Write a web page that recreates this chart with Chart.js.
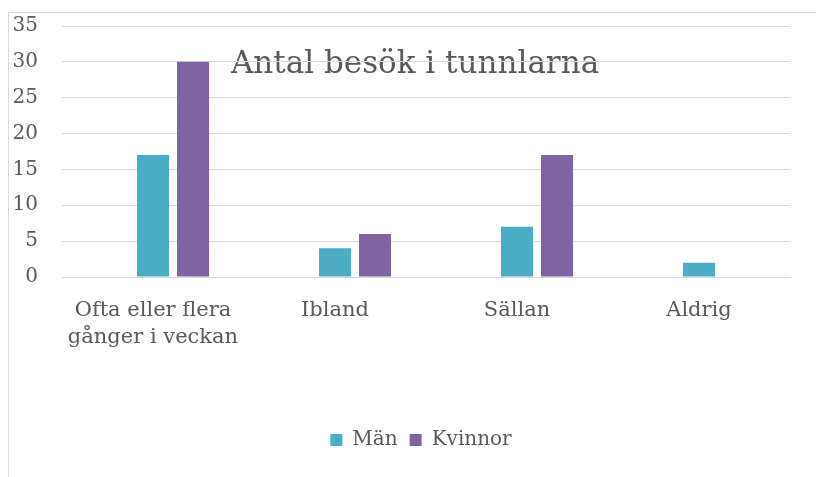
<!DOCTYPE html>
<html>
<head>
<meta charset="utf-8">
<script src="https://cdn.jsdelivr.net/npm/chart.js@4"></script>
<style>
  html, body { margin: 0; padding: 0; background: #fff; }
  #wrap { position: relative; width: 816px; height: 477px; }
</style>
</head>
<body>
<div id="wrap"><canvas id="chart"></canvas></div>
<script>
// data
const categories = [["Ofta eller flera", "gånger i veckan"], "Ibland", "Sällan", "Aldrig"];
const men = [17, 4, 7, 2];
const women = [30, 6, 17, 0];
const emptySeries = [null, null, null, null]; // unused first series, keeps bars shifted right
const yTicks = [0, 5, 10, 15, 20, 25, 30, 35];

const gray = "#595959";
const lineGray = "#d9d9d9";
const serif = "'DejaVu Serif', 'Liberation Serif', serif";

// frame + title drawn behind gridlines, legend nudged to the right
const decor = {
    id: "decor",
    afterLayout(chart) {
        chart.legend.left = 52;
    },
    beforeDraw(chart) {
        const c = chart.ctx;
        c.save();
        c.fillStyle = "#fff";
        c.fillRect(0, 0, chart.width, chart.height);
        c.strokeStyle = lineGray;
        c.lineWidth = 1;
        c.beginPath();
        c.moveTo(8.5, chart.height);
        c.lineTo(8.5, 12.5);
        c.lineTo(chart.width, 12.5);
        c.stroke();
        c.fillStyle = gray;
        c.font = "31px " + serif;
        c.textAlign = "center";
        c.textBaseline = "alphabetic";
        c.fillText("Antal besök i tunnlarna", 415, 73);
        c.restore();
    }
};

const ctx = document.getElementById("chart").getContext("2d");
const chart = new Chart(ctx, {
    type: "bar",
    data: {
        labels: categories,
        datasets: [
            { label: "", data: emptySeries, backgroundColor: "rgba(0,0,0,0)" },
            { label: "Män", data: men, backgroundColor: "#4bacc6" },
            { label: "Kvinnor", data: women, backgroundColor: "#8064a2" }
        ]
    },
    options: {
        responsive: true,
        maintainAspectRatio: false,
        animation: false,
        layout: { padding: { left: 8, right: 26, top: 26, bottom: 17 } },
        datasets: { bar: { barPercentage: 0.8, categoryPercentage: 0.66 } },
        scales: {
            x: {
                grid: { display: false, drawTicks: false },
                border: { color: lineGray },
                ticks: {
                    color: gray,
                    font: { family: serif, size: 21, lineHeight: 1.29 },
                    padding: 20,
                    maxRotation: 0
                },
                afterFit(scale) {
                    scale.height = 141;
                    scale.paddingLeft = 0;
                    scale.paddingRight = 0;
                }
            },
            y: {
                min: 0,
                max: 35,
                afterBuildTicks(scale) { scale.ticks = yTicks.map(v => ({ value: v })); },
                grid: { color: lineGray, drawTicks: false },
                border: { display: false },
                ticks: {
                    color: gray,
                    font: { family: serif, size: 20 },
                    padding: 24
                },
                afterFit(scale) {
                    scale.width = 54;
                    scale.paddingTop = 0;
                    scale.paddingBottom = 0;
                }
            }
        },
        plugins: {
            title: { display: false },
            tooltip: { enabled: false },
            legend: {
                position: "bottom",
                labels: {
                    color: gray,
                    font: { family: serif, size: 20 },
                    boxWidth: 12,
                    boxHeight: 12,
                    padding: 12,
                    filter: item => item.text !== ""
                }
            }
        }
    },
    plugins: [decor]
});
</script>
</body>
</html>
